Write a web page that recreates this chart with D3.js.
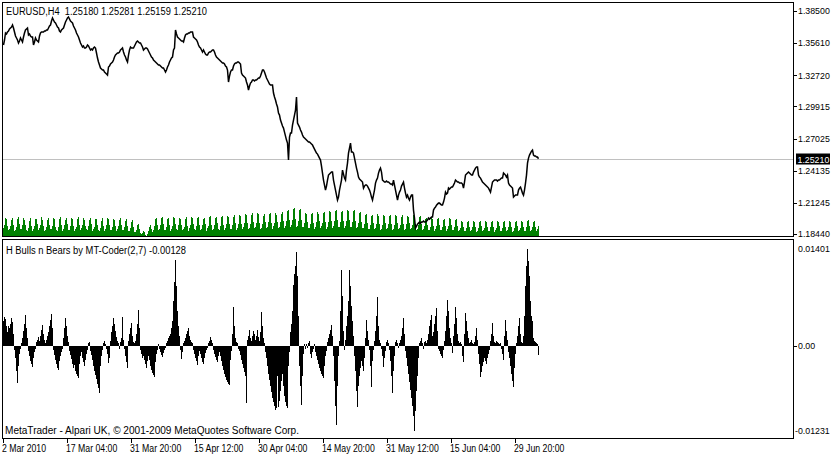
<!DOCTYPE html>
<html><head><meta charset="utf-8">
<script src="https://cdn.jsdelivr.net/npm/d3@7"></script>
<style>
body{margin:0;background:#fff}
svg{display:block}
text{font-family:"Liberation Sans",Arial,sans-serif;font-size:10px;fill:#000}
text.ax{font-size:8.8px}
</style>
</head><body>
<svg id="c" width="831" height="456"></svg>
<script>
// ---------------- DATA ----------------
const symbolTitle = "EURUSD,H4  1.25180 1.25281 1.25159 1.25210";
const indicatorTitle = "H Bulls n Bears by MT-Coder(2,7) -0.00128";
const footerText = "MetaTrader - Alpari UK, \u00A9 2001-2009 MetaQuotes Software Corp.";

const timeLabels = ["2 Mar 2010","17 Mar 04:00","31 Mar 20:00","15 Apr 12:00","30 Apr 04:00","14 May 20:00","31 May 12:00","15 Jun 04:00","29 Jun 20:00"];
const timeLabelBars = [0,64,128,192,256,320,384,448,512];

const priceTicks = [1.38500,1.35610,1.32720,1.29915,1.27025,1.24135,1.21245,1.18440];
const priceTickLabels = ["1.38500","1.35610","1.32720","1.29915","1.27025","1.24135","1.21245","1.18440"];
const lastPrice = 1.25210;
const lastPriceLabel = "1.25210";

const indTicks = [0.01401, 0, -0.01231];
const indTickLabels = ["0.01401","0.00","-0.01231"];

// H4 closes (one per bar)
const close = [
1.3544,1.3589,1.3652,1.3643,1.3661,1.3670,1.3688,1.3697,1.3706,1.3724,
1.3697,1.3661,1.3625,1.3607,1.3589,1.3562,1.3580,1.3607,1.3589,1.3571,
1.3616,1.3652,1.3679,1.3688,1.3697,1.3634,1.3643,1.3625,1.3616,1.3616,
1.3544,1.3571,1.3607,1.3589,1.3580,1.3571,1.3625,1.3652,1.3661,1.3661,
1.3661,1.3670,1.3670,1.3679,1.3679,1.3697,1.3715,1.3724,1.3760,1.3787,
1.3769,1.3751,1.3742,1.3724,1.3706,1.3697,1.3670,1.3661,1.3679,1.3688,
1.3697,1.3724,1.3751,1.3769,1.3787,1.3796,1.3778,1.3760,1.3751,1.3742,
1.3715,1.3697,1.3679,1.3652,1.3634,1.3616,1.3589,1.3562,1.3544,1.3526,
1.3535,1.3517,1.3517,1.3526,1.3544,1.3535,1.3517,1.3499,1.3508,1.3499,
1.3517,1.3526,1.3517,1.3472,1.3427,1.3391,1.3364,1.3337,1.3328,1.3319,
1.3319,1.3301,1.3292,1.3283,1.3274,1.3346,1.3355,1.3373,1.3382,1.3391,
1.3409,1.3436,1.3454,1.3463,1.3472,1.3472,1.3481,1.3499,1.3508,1.3517,
1.3481,1.3454,1.3436,1.3409,1.3391,1.3454,1.3499,1.3526,1.3517,1.3517,
1.3517,1.3535,1.3553,1.3571,1.3580,1.3571,1.3562,1.3562,1.3544,1.3526,
1.3499,1.3508,1.3517,1.3517,1.3508,1.3490,1.3472,1.3454,1.3436,1.3427,
1.3409,1.3400,1.3391,1.3382,1.3373,1.3364,1.3364,1.3355,1.3346,1.3337,
1.3337,1.3319,1.3301,1.3319,1.3346,1.3364,1.3391,1.3409,1.3427,1.3436,
1.3499,1.3517,1.3679,1.3643,1.3616,1.3607,1.3598,1.3589,1.3580,1.3580,
1.3571,1.3607,1.3634,1.3643,1.3643,1.3652,1.3652,1.3661,1.3661,1.3661,
1.3616,1.3607,1.3598,1.3589,1.3571,1.3544,1.3526,1.3517,1.3499,1.3481,
1.3499,1.3481,1.3463,1.3454,1.3454,1.3472,1.3481,1.3481,1.3490,1.3499,
1.3499,1.3481,1.3454,1.3436,1.3427,1.3418,1.3409,1.3400,1.3391,1.3382,
1.3382,1.3373,1.3355,1.3346,1.3319,1.3211,1.3265,1.3301,1.3319,1.3319,
1.3355,1.3373,1.3382,1.3382,1.3391,1.3391,1.3382,1.3373,1.3292,1.3274,
1.3265,1.3256,1.3247,1.3211,1.3184,1.3139,1.3175,1.3202,1.3211,1.3229,
1.3229,1.3220,1.3229,1.3229,1.3238,1.3247,1.3247,1.3265,1.3292,1.3319,
1.3319,1.3301,1.3274,1.3247,1.3229,1.3211,1.3193,1.3184,1.3184,1.3184,
1.3112,1.3076,1.3049,1.3013,1.2986,1.2932,1.2914,1.2869,1.2842,1.2815,
1.2797,1.2761,1.2725,1.2689,1.2662,1.2509,1.2716,1.2752,1.2752,1.2824,
1.2869,1.2914,1.2959,1.3076,1.2842,1.2824,1.2806,1.2779,1.2761,1.2734,
1.2716,1.2707,1.2698,1.2689,1.2680,1.2671,1.2671,1.2662,1.2653,1.2644,
1.2626,1.2608,1.2590,1.2572,1.2563,1.2545,1.2527,1.2509,1.2455,1.2392,
1.2329,1.2284,1.2239,1.2275,1.2329,1.2374,1.2383,1.2392,1.2401,1.2401,
1.2329,1.2284,1.2239,1.2194,1.2149,1.2176,1.2239,1.2284,1.2329,1.2419,
1.2383,1.2347,1.2329,1.2419,1.2482,1.2572,1.2617,1.2662,1.2581,1.2581,
1.2572,1.2527,1.2482,1.2437,1.2401,1.2356,1.2338,1.2329,1.2320,1.2311,
1.2257,1.2275,1.2284,1.2284,1.2275,1.2257,1.2239,1.2212,1.2176,1.2149,
1.2194,1.2239,1.2302,1.2329,1.2347,1.2392,1.2419,1.2437,1.2401,1.2329,
1.2320,1.2311,1.2311,1.2320,1.2311,1.2311,1.2302,1.2293,1.2293,1.2284,
1.2329,1.2284,1.2239,1.2194,1.2149,1.2194,1.2221,1.2239,1.2275,1.2293,
1.2311,1.2257,1.2212,1.2176,1.2194,1.2167,1.2149,1.2176,1.2194,1.2194,
1.2059,1.1987,1.1897,1.1915,1.1933,1.1942,1.1951,1.1942,1.1951,1.1951,
1.1960,1.1951,1.1951,1.1960,1.1969,1.1987,1.1978,1.1987,1.1996,1.1996,
1.2059,1.2077,1.2086,1.2104,1.2113,1.2122,1.2122,1.2113,1.2104,1.2104,
1.2131,1.2167,1.2221,1.2203,1.2212,1.2257,1.2248,1.2257,1.2266,1.2266,
1.2284,1.2302,1.2329,1.2320,1.2311,1.2311,1.2302,1.2302,1.2302,1.2293,
1.2257,1.2311,1.2374,1.2383,1.2392,1.2401,1.2392,1.2383,1.2374,1.2374,
1.2401,1.2419,1.2437,1.2446,1.2446,1.2374,1.2356,1.2347,1.2329,1.2311,
1.2302,1.2293,1.2284,1.2275,1.2266,1.2257,1.2239,1.2221,1.2266,1.2311,
1.2320,1.2329,1.2329,1.2329,1.2320,1.2329,1.2329,1.2338,1.2347,1.2347,
1.2392,1.2383,1.2374,1.2356,1.2374,1.2302,1.2284,1.2275,1.2266,1.2257,
1.2176,1.2185,1.2194,1.2194,1.2194,1.2239,1.2257,1.2266,1.2239,1.2212,
1.2194,1.2239,1.2302,1.2374,1.2482,1.2527,1.2554,1.2572,1.2590,1.2599,
1.2554,1.2545,1.2545,1.2536,1.2536,1.2521
];

// tick volume per bar (thousands)
const volume = [
9,12,19,18,11,7, 8,11,17,19,12,6, 7,10,18,20,13,8, 8,12,19,17,12,7, 6,9,16,19,11,6, 8,11,18,18,13,7,
9,12,20,17,11,6, 7,10,17,19,12,8, 8,11,19,18,10,7, 6,10,18,20,12,6, 8,12,17,19,13,7, 7,11,19,18,11,6,
8,10,18,20,12,7, 9,12,19,17,11,8, 7,11,17,19,13,6, 8,10,18,18,12,7, 6,9,16,19,11,6, 8,12,19,18,12,7,
7,10,18,17,11,6, 8,11,17,19,12,7, 7,10,16,18,11,6, 6,9,15,17,10,5,
5,7,12,13,8,4, 3,4,6,5,2,1, 3,6,10,12,8,5,
7,11,18,19,12,7, 8,12,19,20,13,7, 7,10,18,19,12,6, 8,11,20,19,13,8, 7,12,19,18,12,7, 8,10,18,20,11,6,
9,12,20,19,13,8, 7,11,19,20,12,7, 8,12,18,19,13,6, 9,11,20,21,12,7, 8,12,19,20,14,8, 7,11,20,21,12,7,
9,13,21,20,13,8, 8,12,20,22,14,7, 9,13,22,21,13,8,
10,14,23,22,14,8, 9,13,22,24,15,9, 10,14,24,23,14,8, 9,13,21,23,15,9, 10,15,23,24,14,8, 11,14,24,22,15,9,
10,15,23,25,16,9, 11,16,26,27,17,10,
12,17,28,29,18,10, 11,16,27,28,17,10,
10,14,24,23,15,9, 9,13,23,24,14,8, 10,15,25,23,16,9, 11,14,24,25,15,8, 10,15,26,25,16,9, 11,16,26,27,17,10,
10,15,25,26,16,9,
11,16,27,26,17,10, 10,15,26,27,16,9, 10,14,24,25,15,9,
9,13,22,23,14,8, 8,12,21,22,14,8, 9,13,23,21,13,7, 8,12,22,21,14,8, 9,13,21,22,13,7, 8,12,22,21,14,8,
9,12,20,22,13,7, 8,13,21,20,14,8, 9,12,22,21,13,7, 8,12,20,21,13,7,
8,11,18,19,12,7, 7,10,19,18,11,6, 8,11,18,19,12,7, 7,10,17,18,11,6, 8,11,19,18,12,7, 7,10,17,18,11,6,
7,9,16,15,10,6, 6,9,15,16,10,6, 7,10,16,15,10,5, 6,9,15,16,11,6, 7,9,16,15,10,6, 6,10,15,16,10,5,
7,9,16,15,11,6, 6,9,15,16,10,6, 7,10,16,15,10,5, 6,9,15,16,11,6, 7,9,16,15,10,6, 6,10,16,17,11,6,
7,10,15,16,10,6, 8,11
];

// H Bulls n Bears values per bar, in points (1e-5)
const bullsBears = [
360,418,389,288,202,288,259,317,403,346,
173,-58,-173,-360,-533,-288,-115,-43,43,115,
216,317,446,259,115,-72,-144,-216,-259,-302,
-173,-86,-43,58,86,130,72,144,230,302,
173,86,43,86,144,202,288,374,461,259,
-58,-130,-202,-259,-317,-346,-216,-144,-86,-43,
115,259,403,288,144,58,-72,-130,-187,-259,
-317,-274,-360,-403,-432,-461,-259,-144,-86,-173,
-230,-288,-202,-115,-58,43,58,-72,-130,-202,
-288,-360,-418,-475,-547,-605,-677,-288,-144,-58,
43,72,29,-43,-115,-245,-173,72,202,288,
403,317,216,130,72,43,-43,58,115,418,
86,-43,-144,-230,-317,72,173,259,331,144,
58,43,72,173,317,518,259,-58,-115,-173,
-144,-202,-259,-317,-216,-144,-202,-288,-346,-389,
-418,-446,-230,-115,-58,29,-43,-86,-130,-158,
-101,-58,-29,43,72,115,144,173,259,360,
648,922,1238,864,504,288,144,-58,-187,-86,
43,72,115,173,216,259,144,86,58,43,
-58,-115,-173,-216,-274,-144,-72,-115,-173,-230,
-259,-173,-101,-58,-29,43,72,130,86,43,
-58,-115,-158,-202,-230,-144,-86,-144,-216,-288,
-346,-403,-446,-490,-518,-547,-562,-202,-72,173,
562,288,115,58,43,-43,-72,-130,-202,-259,
-317,-374,-432,-821,86,144,230,115,72,144,
216,173,86,144,230,130,72,202,490,288,
115,43,-86,-173,-288,-403,-490,-576,-662,-749,
-806,-864,-922,-893,-432,-878,-792,-648,-504,-403,
-576,-720,-806,-864,-893,-288,-86,202,317,504,
878,1037,1152,1354,1008,432,-288,-576,-850,-432,
-115,29,-43,29,-29,43,72,-115,-173,-86,
-43,29,-86,-144,-202,-259,-317,-360,-403,-432,
-461,-288,-144,-72,58,115,173,230,302,144,
-144,-504,-864,-1138,-576,-144,72,504,1094,720,
216,-58,86,288,432,648,1094,864,576,360,
144,-144,-360,-648,-878,-576,-432,-317,-216,-288,
-360,-173,115,374,216,86,-58,-288,-590,-216,
-58,72,216,432,706,288,86,43,-43,-144,
-302,-173,-72,58,86,43,-58,-216,-432,-677,
-360,-144,58,86,43,-29,43,86,144,259,
403,173,-72,-173,-288,-403,-518,-634,-749,-864,
-1008,-1231,-936,-648,-432,-173,43,72,115,43,
-43,58,72,43,86,173,288,374,446,144,
202,317,432,547,216,-43,-72,-115,-144,-173,
-58,72,216,432,662,504,259,115,43,-101,
144,317,562,403,173,72,43,58,29,-144,
-230,173,475,360,216,115,43,58,86,43,
29,58,144,259,86,-115,-259,-446,-374,-288,
-230,-173,-216,-259,-173,-115,-58,72,173,331,
144,58,43,72,58,43,29,43,-43,-115,
-202,144,374,216,86,-86,-173,-288,-403,-504,
-590,-317,-115,43,144,288,403,173,58,43,
144,432,864,1152,1401,1224,1008,648,432,360,
115,72,58,43,29,-128
];

// ---------------- DRAW ----------------
const W = 831, H = 456;
const svg = d3.select("#c");
svg.append("rect").attr("width", W).attr("height", H).attr("fill", "#fff");

const N = close.length;
const x = d3.scaleLinear().domain([0, N]).range([3, 3 + N]);     // bar column left edge
const yP = d3.scaleLinear().domain([1.18440, 1.38500]).range([234, 11]);
const yV = d3.scaleLinear().domain([0, 30]).range([237, 207]);
const yI = d3.scaleLinear().domain([-0.01231, 0.01401]).range([431, 248.5]);

// Current price line
const yLast = Math.round(yP(lastPrice)) + 0.5;
svg.append("line").attr("x1", 3).attr("x2", 793).attr("y1", yLast).attr("y2", yLast)
  .attr("stroke", "#c0c0c0").attr("stroke-width", 1);

// Volumes
svg.append("g").selectAll("rect").data(volume).join("rect")
  .attr("x", (d, i) => x(i)).attr("width", 1)
  .attr("y", d => yV(d)).attr("height", d => yV(0) - yV(d))
  .attr("fill", "#008000").attr("shape-rendering", "crispEdges");

// Price line
svg.append("path").datum(close)
  .attr("d", d3.line().x((d, i) => x(i) + 0.5).y(d => yP(d)))
  .attr("fill", "none").attr("stroke", "#000").attr("stroke-width", 1.5)
  .attr("stroke-linejoin", "miter");

// Indicator histogram
svg.append("g").selectAll("rect").data(bullsBears).join("rect")
  .attr("x", (d, i) => x(i)).attr("width", 1)
  .attr("y", d => Math.min(yI(d * 1e-5), yI(0)))
  .attr("height", d => Math.max(1, Math.abs(yI(d * 1e-5) - yI(0))))
  .attr("fill", "#000").attr("shape-rendering", "crispEdges");

// Frames
const frame = (x0, y0, x1, y1) => svg.append("rect")
  .attr("x", x0).attr("y", y0).attr("width", x1 - x0).attr("height", y1 - y0)
  .attr("fill", "none").attr("stroke", "#000").attr("stroke-width", 1)
  .attr("shape-rendering", "crispEdges");
frame(2.5, 2.5, 793.5, 236.5);
frame(2.5, 239.5, 793.5, 438.5);

function fitText(sel, k) {
  sel.each(function () {
    const w = this.getComputedTextLength();
    d3.select(this).attr("textLength", w * k).attr("lengthAdjust", "spacingAndGlyphs");
  });
}

// Titles
svg.append("text").attr("x", 6).attr("y", 15).attr("xml:space", "preserve").style("white-space", "pre")
  .text(symbolTitle).attr("textLength", 201).attr("lengthAdjust", "spacingAndGlyphs");
svg.append("text").attr("x", 6).attr("y", 254)
  .text(indicatorTitle).attr("textLength", 180).attr("lengthAdjust", "spacingAndGlyphs");
svg.append("text").attr("x", 5).attr("y", 434)
  .text(footerText).attr("textLength", 294).attr("lengthAdjust", "spacingAndGlyphs");

// Price axis
const pAxis = svg.append("g");
priceTicks.forEach((t, i) => {
  const yy = Math.round(yP(t)) + 0.5;
  pAxis.append("line").attr("x1", 793.5).attr("x2", 797).attr("y1", yy).attr("y2", yy).attr("stroke", "#000");
  pAxis.append("text").attr("class", "ax").attr("x", 798).attr("y", yP(t) + 3.3).text(priceTickLabels[i]);
});

// Last price box
svg.append("rect").attr("x", 796).attr("y", yLast - 6).attr("width", 34).attr("height", 11).attr("fill", "#000");
svg.append("text").attr("class", "ax").attr("x", 797.5).attr("y", yLast + 3.3).style("fill", "#fff")
  .text(lastPriceLabel);

// Indicator axis
const iAxis = svg.append("g");
indTicks.forEach((t, i) => {
  const yy = Math.round(yI(t)) + 0.5;
  if (t === 0) iAxis.append("line").attr("x1", 793.5).attr("x2", 797).attr("y1", yy).attr("y2", yy).attr("stroke", "#000");
  iAxis.append("text").attr("class", "ax").attr("x", t < 0 ? 795 : 798).attr("y", yI(t) + 3.3).text(indTickLabels[i]);
});

// Time axis
const tAxis = svg.append("g");
timeLabelBars.forEach((b, i) => {
  const xx = Math.round(x(b)) + 0.5;
  tAxis.append("line").attr("x1", xx).attr("x2", xx).attr("y1", 439).attr("y2", 443).attr("stroke", "#000");
  tAxis.append("text").attr("x", x(b) - 1).attr("y", 452).text(timeLabels[i]);
});
fitText(tAxis.selectAll("text"), 0.87);
</script>
</body></html>
